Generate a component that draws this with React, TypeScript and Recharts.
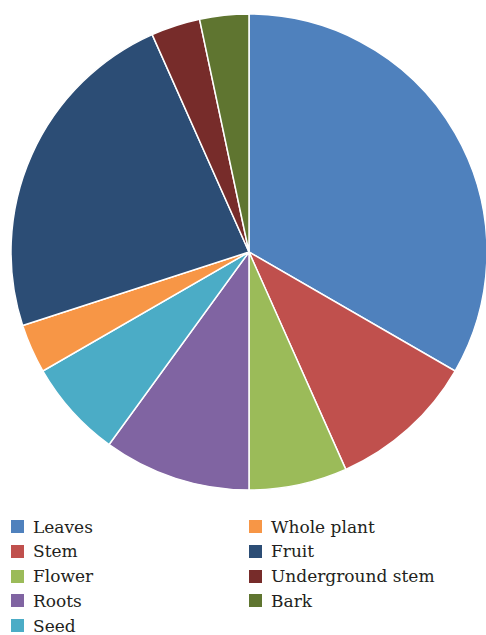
import React from 'react'
import { PieChart, Pie, Cell } from 'recharts'

// Plant parts used (count of reports)
const PARTS = ['Leaves', 'Stem', 'Flower', 'Roots', 'Seed', 'Whole plant', 'Fruit', 'Underground stem', 'Bark']
const COUNTS = [10, 3, 2, 3, 2, 1, 7, 1, 1]
const COLORS = ['#4F81BD', '#C0504D', '#9BBB59', '#8064A2', '#4BACC6', '#F79646', '#2C4D75', '#772C2A', '#5F7530']

const data = PARTS.map((name, i) => ({ name, value: COUNTS[i] }))

const LEFT_ROWS = 5

export default function App() {
  const font = "'DejaVu Serif', serif"
  return (
    <div style={{ position: 'absolute', left: 0, top: 0, width: 486, height: 635, background: '#fff', overflow: 'hidden' }}>
      <PieChart width={500} height={500} margin={{ top: 0, right: 0, bottom: 0, left: 0 }} style={{ position: 'absolute', left: 0, top: 0 }}>
        <Pie
          data={data}
          dataKey="value"
          nameKey="name"
          cx={249}
          cy={252}
          outerRadius={238}
          startAngle={90}
          endAngle={-270}
          stroke="#fff"
          strokeWidth={1.5}
          isAnimationActive={false}
        >
          {data.map((d, i) => (
            <Cell key={d.name} fill={COLORS[i]} />
          ))}
        </Pie>
      </PieChart>
      {data.map((d, i) => {
        const col = i < LEFT_ROWS ? 0 : 1
        const row = col === 0 ? i : i - LEFT_ROWS
        const left = col === 0 ? 11 : 249
        const cy = 526.5 + row * 24.8
        return (
          <div key={d.name} style={{ position: 'absolute', left, top: cy - 8, height: 16, display: 'flex', alignItems: 'center', fontFamily: font, fontSize: 17, lineHeight: '16px', color: '#231f20', whiteSpace: 'nowrap' }}>
            <div style={{ width: 13, height: 13, background: COLORS[i], marginRight: 9, flexShrink: 0 }} />
            <span>{d.name}</span>
          </div>
        )
      })}
    </div>
  )
}
